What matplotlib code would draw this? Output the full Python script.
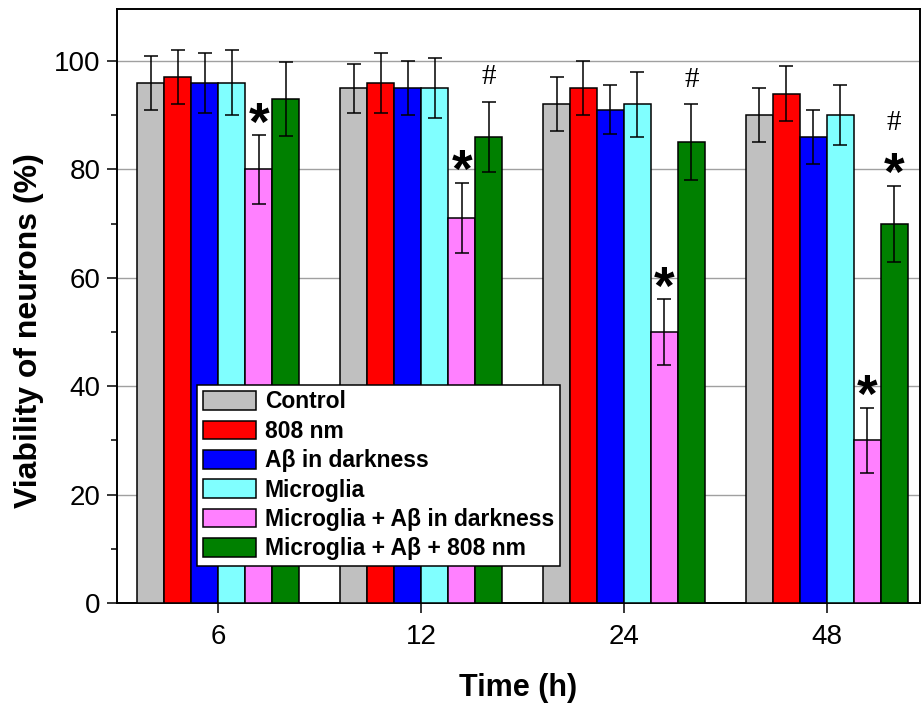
import numpy as np
import matplotlib
matplotlib.use("Agg")
import matplotlib.pyplot as plt

plt.rcParams['font.family'] = ['Liberation Sans', 'DejaVu Sans']

# data
times = ["6", "12", "24", "48"]
groups = ["Control", "808 nm", "A\u03b2 in darkness", "Microglia",
          "Microglia + A\u03b2 in darkness", "Microglia + A\u03b2 + 808 nm"]
colors = ["#C0C0C0", "#FF0000", "#0000FF", "#80FFFF", "#FF80FF", "#008000"]

control = [96, 95, 92, 90]
nm808 = [97, 96, 95, 94]
ab_dark = [96, 95, 91, 86]
microglia = [96, 95, 92, 90]
mg_ab_dark = [80, 71, 50, 30]
mg_ab_808 = [93, 86, 85, 70]

control_err = [5, 4.5, 5, 5]
nm808_err = [5, 5.5, 5, 5]
ab_dark_err = [5.5, 5, 4.5, 5]
microglia_err = [6, 5.5, 6, 5.5]
mg_ab_dark_err = [6.3, 6.5, 6, 6]
mg_ab_808_err = [6.8, 6.5, 7, 7]

star_pink = [True, True, True, True]
star_green = [False, False, False, True]
hash_green = [False, True, True, True]

values = [control, nm808, ab_dark, microglia, mg_ab_dark, mg_ab_808]
errors = [control_err, nm808_err, ab_dark_err, microglia_err, mg_ab_dark_err, mg_ab_808_err]

fig = plt.figure(figsize=(9.21, 7.07), dpi=100)
ax = fig.add_axes([117/921, 104/707, 803/921, 594/707])

x = np.arange(len(times))
w = 0.133
for i in range(6):
    pos = x + (i - 2.5) * w
    ax.bar(pos, values[i], w, color=colors[i], edgecolor='black', linewidth=1.1,
           label=groups[i], zorder=3)
    ax.errorbar(pos, values[i], yerr=errors[i], fmt='none', ecolor='black',
                elinewidth=1.1, capsize=5, capthick=1.1, zorder=4)

# significance marks
for j in range(4):
    p_pink = x[j] + 1.5 * w
    p_green = x[j] + 2.5 * w
    if star_pink[j]:
        top = mg_ab_dark[j] + mg_ab_dark_err[j]
        ax.text(p_pink, top - 0.8, "*", ha='center', va='baseline', fontsize=38,
                fontweight='bold', zorder=5)
    top_g = mg_ab_808[j] + mg_ab_808_err[j]
    if star_green[j]:
        ax.text(p_green, top_g - 0.8, "*", ha='center', va='baseline', fontsize=38,
                fontweight='bold', zorder=5)
        ax.text(p_green, top_g + 10.2, "#", ha='center', va='baseline', fontsize=21,
                family='Liberation Serif', zorder=5)
    elif hash_green[j]:
        ax.text(p_green, top_g + 3.2, "#", ha='center', va='baseline', fontsize=21,
                family='Liberation Serif', zorder=5)

ax.set_xlim(-0.5, 3.46)
ax.set_ylim(0, 109.6)
ax.set_xticks(x)
ax.set_xticklabels(times, fontsize=20)
ax.set_yticks([0, 20, 40, 60, 80, 100])
ax.set_yticks([10, 30, 50, 70, 90], minor=True)
ax.tick_params(axis='y', labelsize=20, length=7, width=1.1, pad=5)
ax.tick_params(axis='y', which='minor', length=4, width=1.1)
ax.tick_params(axis='x', length=7, width=1.1, pad=8)
ax.grid(axis='y', color='#A0A0A0', linewidth=1, zorder=0)
for s in ax.spines.values():
    s.set_linewidth(1.4)

ax.set_ylabel("Viability of neurons (%)", fontsize=23, fontweight='bold')
ax.yaxis.set_label_coords(-0.091, 0.458)
ax.set_xlabel("Time (h)", fontsize=22, fontweight='bold', labelpad=17)

leg = ax.legend(loc='lower left', bbox_to_anchor=(0.1, 0.062),
                prop={'weight': 'bold', 'size': 16.5}, frameon=True, fancybox=False,
                framealpha=1, edgecolor='black', handlelength=2.3, handleheight=0.87,
                handletextpad=0.4, labelspacing=0.28, borderpad=0.25, borderaxespad=0)
leg.get_frame().set_linewidth(1.1)
leg.set_zorder(6)

fig.savefig("out.png", dpi=100)
